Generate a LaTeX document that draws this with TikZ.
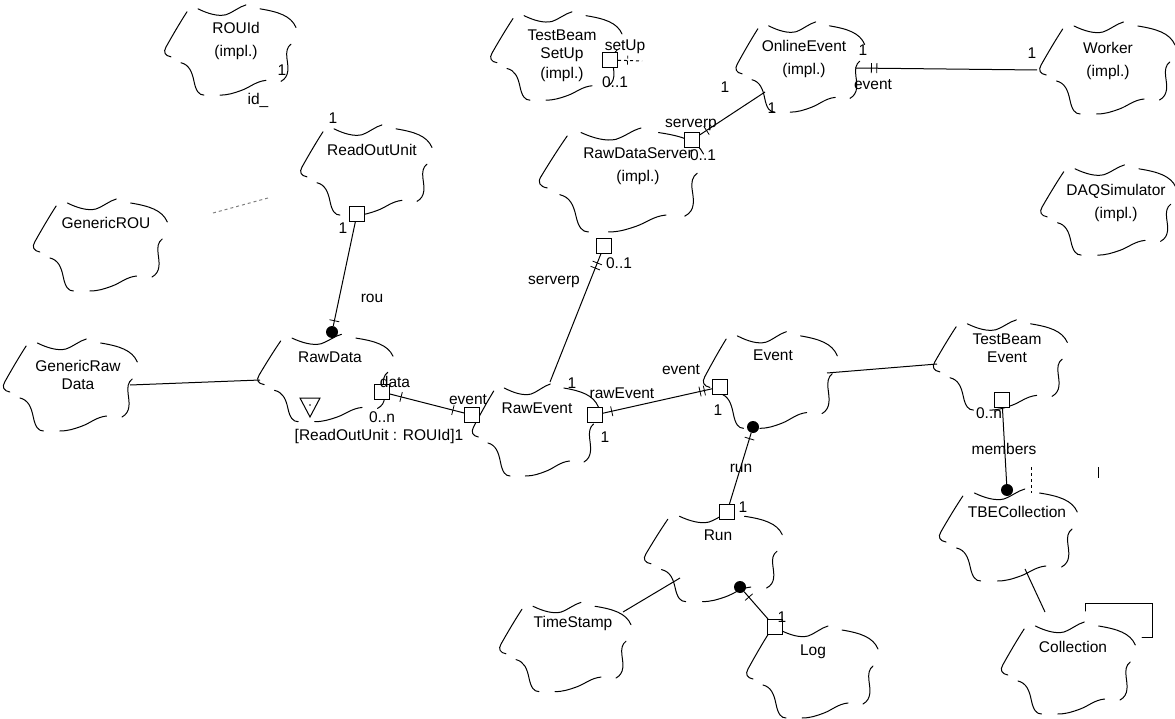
\documentclass[tikz,border=0pt]{standalone}
\usepackage{fontspec}
\setmainfont{Liberation Sans}

% Booch class cloud: name, centre x, centre y, x scale, y scale
\newcommand\bcloud[5]{%
  \coordinate (#1) at (#2,#3);
  \begin{scope}[shift={(#2,#3)},xscale=#4,yscale=#5]
    % left side: small hook, then a slanted stroke
    \draw[cloudline] (-59,7) .. controls (-65,6) and (-67,2) .. (-64,-3)
                     .. controls (-58,-14) and (-50,-28) .. (-43,-39);
    % top left bump
    \draw[cloudline] (-32,-42) .. controls (-22,-37) and (-12,-34) .. (-4,-36)
                     .. controls (4,-39) and (9,-44) .. (16,-46);
    % top right bump
    \draw[cloudline] (30,-42) .. controls (48,-39) and (61,-35) .. (66,-23);
    % right side
    \draw[cloudline] (61,-6) .. controls (57,-3) and (56,2) .. (57,9)
                     .. controls (58,17) and (60,27) .. (51,32);
    % bottom right
    \draw[cloudline] (36,31) .. controls (26,32) and (20,38) .. (12,41)
                     .. controls (4,44) and (-2,46) .. (-10,46);
    % bottom left
    \draw[cloudline] (-49,13) .. controls (-41,15) and (-38,22) .. (-36,32)
                     .. controls (-34,42) and (-31,46) .. (-26,46);
  \end{scope}}

\tikzset{
  cloudline/.style={line width=1pt, line cap=round},
  conn/.style={line width=1pt},
  lbl/.style={font=\fontsize{15.5}{17.5}\selectfont, inner sep=0pt, align=center},
  adbox/.style={draw, line width=1pt, minimum size=15pt, inner sep=0pt, fill=white},
  dotmark/.style={circle, fill=black, minimum size=12pt, inner sep=0pt},
  tickmark/.style={sloped, draw, inner sep=0pt, minimum width=0pt, minimum height=10pt, line width=0.8pt},
}

\begin{document}
\begin{tikzpicture}[x=1pt,y=-1pt]
\useasboundingbox (0,0) rectangle (1175,719);

% ---------- classes ----------
\bcloud{rouid}{230}{50}{1}{0.98}
\node[lbl] (rouid-t) at (236,41) {ROUId\\[5pt](impl.)};
\bcloud{tbsu}{556}{56}{1}{0.96}
\node[lbl] (tbsu-t) at (562,56) {TestBeam\\SetUp\\[3pt](impl.)};
\bcloud{online}{800}{67}{0.98}{0.98}
\node[lbl] (online-t) at (804,59) {OnlineEvent\\[5pt](impl.)};
\bcloud{worker}{1107}{68}{1.03}{1}
\node[lbl] (worker-t) at (1108,61) {Worker\\[5pt](impl.)};
\bcloud{rou}{366}{170}{1}{0.98}
\node[lbl] (rou-t) at (372,150) {ReadOutUnit};
\bcloud{grou}{100}{245}{1.02}{1}
\node[lbl] (grou-t) at (106,223) {GenericROU};
\bcloud{rds}{621}{180}{1.25}{1.13}
\node[lbl] (rds-t) at (638,166) {RawDataServer\\[5pt](impl.)};
\bcloud{daq}{1108}{210}{1.03}{0.98}
\node[lbl] (daq-t) at (1116,203) {DAQSimulator\\[5pt](impl.)};
\bcloud{grd}{70}{385}{1.02}{1}
\node[lbl] (grd-t) at (78,375) {GenericRaw\\Data};
\bcloud{rd}{325}{378}{1.03}{0.95}
\node[lbl] (rd-t) at (330,357) {RawData};
\bcloud{re}{535}{430}{0.96}{1}
\node[lbl] (re-t) at (537,408) {RawEvent};
\bcloud{ev}{770}{380}{1.02}{1.05}
\node[lbl] (ev-t) at (773,355) {Event};
\bcloud{tbe}{1000}{365}{1.02}{0.98}
\node[lbl] (tbe-t) at (1007,348) {TestBeam\\Event};
\bcloud{run}{713}{557}{1.05}{0.97}
\node[lbl] (run-t) at (718,535) {Run};
\bcloud{tbec}{1008}{535}{1.05}{1}
\node[lbl] (tbec-t) at (1017,512) {TBECollection};
\bcloud{ts}{565}{647}{1}{0.97}
\node[lbl] (ts-t) at (573,623) {TimeStamp};
\bcloud{log}{812}{672}{1}{1}
\node[lbl] (log-t) at (813,652) {Log};
\bcloud{coll}{1068}{668}{1.02}{1}
\node[lbl] (coll-t) at (1073,647) {Collection};

% template box of the parameterized class
\draw[cloudline] (1085,611) -- (1085,603) -- (1152,603) -- (1152,637) -- (1142,637);

% utility adornment inside RawData
\draw[conn] (300,398) -- (320,398) -- (310,417) -- cycle;
\fill (310,405) circle (0.9);
\node[lbl] (rd-inst) at (379,436) {[ReadOutUnit : ROUId]1};

% ---------- adornments on the class outlines ----------
\node[adbox] (rou-b) at (357,214) {};
\node[dotmark] (rd-d) at (332,332) {};
\node[adbox] (rd-b) at (382,392) {};
\node[adbox] (re-lb) at (472,415) {};
\node[adbox] (re-rb) at (595,415) {};
\node[adbox] (ev-b) at (720,387) {};
\node[dotmark] (ev-d) at (753,427) {};
\node[adbox] (run-b) at (727,512) {};
\node[dotmark] (run-d) at (740,587) {};
\node[adbox] (log-b) at (775,627) {};
\node[adbox] (tbe-b) at (1002,400) {};
\node[dotmark] (tbec-d) at (1007,490) {};
\node[adbox] (rds-b) at (604,246) {};
\node[adbox] (rds-tb) at (692,140) {};
\node[adbox] (tbsu-b) at (610,60) {};

% attachment points on the outlines
\coordinate (grd-r) at (130,385);
\coordinate (rd-l) at (260,380);
\coordinate (ev-r) at (827,373);
\coordinate (tbe-l) at (937,364);
\coordinate (tbec-b) at (1025,569);
\coordinate (coll-top) at (1045,612);
\coordinate (ts-r) at (623,612);
\coordinate (run-l) at (680,578);
\coordinate (re-top) at (550,382);
\coordinate (online-bl) at (765,92);
\coordinate (online-r) at (855,68);
\coordinate (worker-l) at (1037,70);
\coordinate (tbsu-e) at (642,61);
\coordinate (grou-e) at (213,213);
\coordinate (rou-e) at (268,198);

% ---------- relationships ----------
\draw[conn] (rou-b) -- node[tickmark,pos=0.95]{} (rd-d);
\draw[conn] (rd-b) -- node[tickmark,pos=0.15]{} node[tickmark,pos=0.85]{} (re-lb);
\draw[conn] (re-rb) -- node[tickmark,pos=0.08]{} node[tickmark,pos=0.89]{} node[tickmark,pos=0.93]{} (ev-b);
\draw[conn] (ev-d) -- node[tickmark,pos=0.08]{} (run-b);
\draw[conn] (run-d) -- node[tickmark,pos=0.2]{} (log-b);
\draw[conn] (tbe-b) -- (tbec-d);
\draw[conn] (rds-b) -- node[tickmark,pos=0.07]{} node[tickmark,pos=0.11]{} (re-top);
\draw[conn] (rds-tb) -- node[tickmark,pos=0.1]{} (online-bl);
\draw[conn] (online-r) -- node[tickmark,pos=0.09]{} node[tickmark,pos=0.12]{} (worker-l);
\draw[conn,dashed] (tbsu-b) -- node[tickmark,pos=0.4]{} (tbsu-e);
\draw[conn] (grd-r) -- (rd-l);
\draw[conn] (ev-r) -- (tbe-l);
\draw[conn] (tbec-b) -- (coll-top);
\draw[conn] (ts-r) -- (run-l);
\draw[conn,dashed,gray] (grou-e) -- (rou-e);
\draw[line width=0.7pt,dashed] (1031,467) -- (1031,493);
\draw[line width=0.9pt] (1098,467) -- (1098,478);

% ---------- role names and multiplicities ----------
\node[lbl] (l-rouid1) at (282,70) {1};
\node[lbl] (l-id) at (258,100) {id\_};
\node[lbl] (l-rou1) at (333,118) {1};
\node[lbl] (l-roub1) at (343,228) {1};
\node[lbl] (l-rou) at (372,298) {rou};
\node[lbl] (l-data) at (395,382) {data};
\node[lbl] (l-0n) at (382,417) {0..n};
\node[lbl] (l-event1) at (468,400) {event};
\node[lbl] (l-re1) at (572,383) {1};
\node[lbl] (l-rawEvent) at (622,393) {rawEvent};
\node[lbl] (l-re2) at (605,437) {1};
\node[lbl] (l-event2) at (681,370) {event};
\node[lbl] (l-ev1) at (718,410) {1};
\node[lbl] (l-run) at (741,468) {run};
\node[lbl] (l-run1) at (743,507) {1};
\node[lbl] (l-log1) at (782,617) {1};
\node[lbl] (l-tbe0n) at (989,413) {0..n};
\node[lbl] (l-members) at (1004,449) {members};
\node[lbl] (l-rds01) at (619,263) {0..1};
\node[lbl] (l-serverp1) at (554,282) {serverp};
\node[lbl] (l-serverp2) at (691,125) {serverp};
\node[lbl] (l-rds02) at (703,155) {0..1};
\node[lbl] (l-on1) at (725,87) {1};
\node[lbl] (l-on2) at (772,108) {1};
\node[lbl] (l-on3) at (863,50) {1};
\node[lbl] (l-event3) at (873,85) {event};
\node[lbl] (l-wk1) at (1032,53) {1};
\node[lbl] (l-setUp) at (625,47) {setUp};
\node[lbl] (l-su01) at (615,82) {0..1};
\end{tikzpicture}
\end{document}
